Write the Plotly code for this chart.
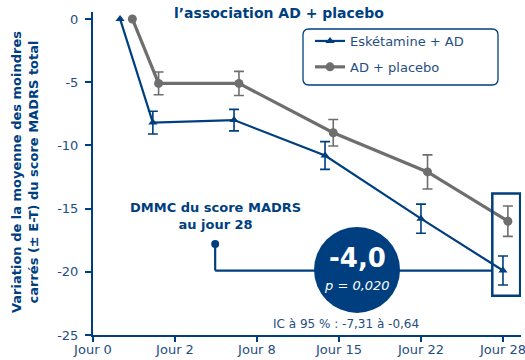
import plotly.graph_objects as go

# Axis categories
tick_labels = ["Jour 0", "Jour 2", "Jour 8", "Jour 15", "Jour 22", "Jour 28"]
tick_pos = [0, 1, 2, 3, 4, 5]
y_ticks = [0, -5, -10, -15, -20, -25]
y_tick_labels = ["0", "-5", "-10", "-15", "-20", "-25"]

# Eskétamine + AD (LS mean change, ± SE)
esk_x = [0.33, 0.73, 1.72, 2.83, 4.00, 5.00]
esk_y = [0.0, -8.2, -8.0, -10.8, -15.8, -19.9]
esk_se = [0.0, 0.9, 0.85, 1.1, 1.15, 1.15]

# AD + placebo
pla_x = [0.48, 0.80, 1.78, 2.93, 4.08, 5.06]
pla_y = [0.0, -5.1, -5.1, -9.0, -12.1, -16.0]
pla_se = [0.0, 0.9, 0.95, 1.05, 1.35, 1.2]

# Day-28 treatment difference
diff_label = "-4,0"
p_label = "p = 0,020"
ci_label = "IC à 95 % : -7,31 à -0,64"

BLUE = "#003f7f"
TXT = "#1f4e80"
GRAY = "#6e6e6e"
FONT = "DejaVu Sans"

fig = go.Figure()

# Error bars (visits after baseline)
fig.add_trace(go.Scatter(
    x=pla_x[1:], y=pla_y[1:], mode="markers", showlegend=False,
    marker=dict(size=1, color="rgba(0,0,0,0)"),
    error_y=dict(type="data", array=pla_se[1:], color=GRAY, thickness=1.6, width=5),
    hoverinfo="skip"))
fig.add_trace(go.Scatter(
    x=esk_x[1:], y=esk_y[1:], mode="markers", showlegend=False,
    marker=dict(size=1, color="rgba(0,0,0,0)"),
    error_y=dict(type="data", array=esk_se[1:], color=BLUE, thickness=1.6, width=5),
    hoverinfo="skip"))

fig.add_trace(go.Scatter(
    x=esk_x, y=esk_y, mode="lines+markers", name="Eskétamine + AD", legendgroup="esk",
    line=dict(color=BLUE, width=2.2),
    marker=dict(symbol="triangle-up", size=8, color=BLUE)))
fig.add_trace(go.Scatter(
    x=pla_x, y=pla_y, mode="lines+markers", name="AD + placebo", legendgroup="pla",
    line=dict(color=GRAY, width=3.2),
    marker=dict(symbol="circle", size=9, color=GRAY)))

shapes = []
# Connector from the callout to the day-28 box
shapes.append(dict(type="line", xref="x", yref="y", x0=1.49, y0=-17.8, x1=1.49, y1=-19.9,
                   line=dict(color=BLUE, width=2.2), layer="below"))
shapes.append(dict(type="line", xref="x", yref="y", x0=1.49, y0=-19.9, x1=4.87, y1=-19.9,
                   line=dict(color=BLUE, width=2.2), layer="below"))
shapes.append(dict(type="circle", xref="x", yref="y", xsizemode="pixel", ysizemode="pixel",
                   xanchor=1.49, yanchor=-17.8, x0=-4, x1=4, y0=-4, y1=4,
                   fillcolor=BLUE, line=dict(width=0)))
# Big difference bubble
shapes.append(dict(type="circle", xref="x", yref="y", xsizemode="pixel", ysizemode="pixel",
                   xanchor=3.22, yanchor=-19.85, x0=-43, x1=43, y0=-43, y1=43,
                   fillcolor=BLUE, line=dict(width=0)))
# Day-28 highlight box
shapes.append(dict(type="rect", xref="x", yref="y", x0=4.87, x1=5.21, y0=-21.9, y1=-13.8,
                   line=dict(color=BLUE, width=2.5), fillcolor="rgba(0,0,0,0)"))

# Rounded legend frame (paper coords)
W, H = 428.0, 323.0
lx0, lx1 = (303 - 93) / W, (498 - 93) / W
ly0, ly1 = (335 - 85) / H, (335 - 29) / H
rx, ry = 6 / W, 6 / H
path = (f"M {lx0+rx},{ly1} L {lx1-rx},{ly1} Q {lx1},{ly1} {lx1},{ly1-ry} "
        f"L {lx1},{ly0+ry} Q {lx1},{ly0} {lx1-rx},{ly0} L {lx0+rx},{ly0} "
        f"Q {lx0},{ly0} {lx0},{ly0+ry} L {lx0},{ly1-ry} Q {lx0},{ly1} {lx0+rx},{ly1} Z")
shapes.append(dict(type="path", xref="paper", yref="paper", path=path,
                   line=dict(color=BLUE, width=1.3), fillcolor="white", layer="below"))

annotations = [
    dict(text="l’association AD + placebo", xref="paper", yref="paper",
         x=(279 - 93) / W, y=(335 - 3) / H, showarrow=False,
         font=dict(family=FONT, size=14, color=BLUE, weight="bold")),
    dict(text="Variation de la moyenne des moindres<br>carrés (± E-T) du score MADRS total",
         xref="paper", yref="paper", x=(25 - 93) / W, y=(335 - 172) / H, textangle=-90,
         xanchor="center", yanchor="middle", showarrow=False,
         font=dict(family=FONT, size=13, color=BLUE, weight="bold")),
    dict(text="DMMC du score MADRS<br>au jour 28", xref="x", yref="y", x=1.49, y=-15.6,
         showarrow=False, font=dict(family=FONT, size=13, color=BLUE, weight="bold")),
    dict(text=diff_label, xref="x", yref="y", x=3.22, y=-18.9, showarrow=False,
         font=dict(family=FONT, size=26, color="white", weight="bold")),
    dict(text=p_label, xref="x", yref="y", x=3.22, y=-21.05, showarrow=False,
         font=dict(family=FONT, size=13, color="white", style="italic")),
    dict(text=ci_label, xref="x", yref="y", x=3.09, y=-24.1, showarrow=False,
         font=dict(family=FONT, size=12, color=TXT)),
]

fig.update_layout(
    width=525, height=360,
    margin=dict(l=93, r=4, t=12, b=25, autoexpand=False),
    plot_bgcolor="white", paper_bgcolor="white",
    font=dict(family=FONT, size=13, color=TXT),
    shapes=shapes, annotations=annotations,
    legend=dict(x=(310 - 93) / W, y=(335 - 26) / H, xanchor="left", yanchor="top",
                bgcolor="rgba(0,0,0,0)", borderwidth=0, itemwidth=30,
                traceorder="grouped", tracegroupgap=6,
                font=dict(family=FONT, size=13, color=TXT)),
    xaxis=dict(range=[0, 5.22], tickvals=tick_pos, ticktext=tick_labels, automargin=False,
               showgrid=False, zeroline=False, showline=True, linecolor=BLUE, linewidth=2,
               ticks="outside", ticklen=5, tickwidth=1.5, tickcolor=BLUE,
               ticklabeloverflow="allow", ticklabelstandoff=-4,
               tickfont=dict(family=FONT, size=13, color=TXT)),
    yaxis=dict(range=[-25, 0.55], tickvals=y_ticks, ticktext=y_tick_labels, automargin=False,
               showgrid=False, zeroline=False, showline=True, linecolor=BLUE, linewidth=2,
               ticks="outside", ticklen=6, tickwidth=1.5, tickcolor=BLUE, ticklabelstandoff=4,
               tickfont=dict(family=FONT, size=13, color=TXT)),
    showlegend=True,
)

fig.write_html("out.html")
